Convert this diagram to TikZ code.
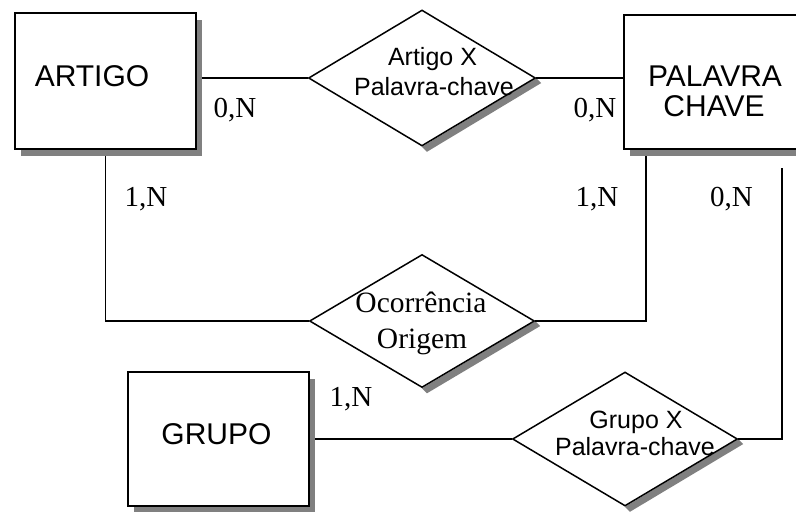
\documentclass[tikz,border=0pt]{standalone}
\usepackage{fontspec}
\setmainfont{Liberation Serif}
\setsansfont{Liberation Sans}
\usetikzlibrary{shapes.geometric,shadows,calc,backgrounds}
\definecolor{shadegray}{RGB}{128,128,128}

\begin{document}
\begin{tikzpicture}[x=0.5pt,y=-0.5pt,
  entity/.style={draw, line width=1pt, fill=white, rectangle, inner sep=0pt,
    drop shadow={shadow xshift=3pt, shadow yshift=-3.5pt, fill=shadegray, opacity=1}},
  relation/.style={draw, diamond, line width=0.75pt, fill=white, inner sep=0pt},
  link/.style={line width=0.75pt},
  enttext/.style={font=\sffamily\fontsize{15}{18}\selectfont, inner sep=0pt, anchor=base},
  reltext/.style={font=\sffamily\fontsize{12.5}{15}\selectfont, inner sep=0pt, anchor=base},
  serreltext/.style={font=\fontsize{14.75}{17}\selectfont, inner sep=0pt, anchor=base},
  card/.style={font=\fontsize{14.5}{17}\selectfont, inner sep=0pt, anchor=base}]

\useasboundingbox (0,0) rectangle (796,511);
\clip (0,0) rectangle (796,511);

% entities
\node[entity, minimum width=90.5pt, minimum height=68pt] (artigo) at (105.5,81) {};
\node[entity, minimum width=91pt, minimum height=67pt] (palavra) at (715,82) {};
\node[entity, minimum width=90.5pt, minimum height=67pt] (grupo) at (218.5,439) {};

% relationships
\node[relation, minimum width=113.5pt, minimum height=68pt] (d1) at (422,78) {};
\node[relation, minimum width=112.5pt, minimum height=66.5pt] (d2) at (422,321) {};
\node[relation, minimum width=112.5pt, minimum height=67pt] (d3) at (625,439) {};

% entity names
\node[enttext] (tArtigo) at (92,86.5) {ARTIGO};
\node[enttext] (tPal1) at (715,86.5) {PALAVRA};
\node[enttext] (tPal2) at (714,116.5) {CHAVE};
\node[enttext] (tGrupo) at (216.5,444) {GRUPO};

% relationship names
\node[reltext] (tD1a) at (432.5,65) {Artigo X};
\node[reltext] (tD1b) at (434,95) {Palavra-chave};
\node[serreltext] (tD2a) at (421,312.5) {Ocorrência};
\node[serreltext] (tD2b) at (422,348) {Origem};
\node[reltext] (tD3a) at (636,428) {Grupo X};
\node[reltext] (tD3b) at (635,455) {Palavra-chave};

% cardinalities
\node[card] (c1) at (235,117.5) {0,N};
\node[card] (c2) at (595,117) {0,N};
\node[card] (c3) at (146,206) {1,N};
\node[card] (c4) at (597,206) {1,N};
\node[card] (c5) at (731.5,206) {0,N};
\node[card] (c6) at (351,406.5) {1,N};

\coordinate (pkEnd) at (782,168);

\begin{scope}[on background layer]
  % shadows along the lower right edge of each diamond
  \foreach \d in {d1,d2,d3}
    \fill[shadegray] (\d.east) -- (\d.south) -- ($(\d.south)+(5,5)$)
      -- ($(\d.east)+(5,5)$) -- cycle;
  % connectors
  \draw[link] (d1.west -| artigo.east) -- (d1.west);
  \draw[link] (d1.east) -- (d1.east -| palavra.west);
  \draw[link] (artigo.south) |- (d2.west);
  \draw[link] (d2.east) -| ($(palavra.south west)+(23,0)$);
  \draw[link] (d3.east) -| (pkEnd);
  \draw[link] (grupo.east) -- (d3.west);
\end{scope}
\end{tikzpicture}
\end{document}
